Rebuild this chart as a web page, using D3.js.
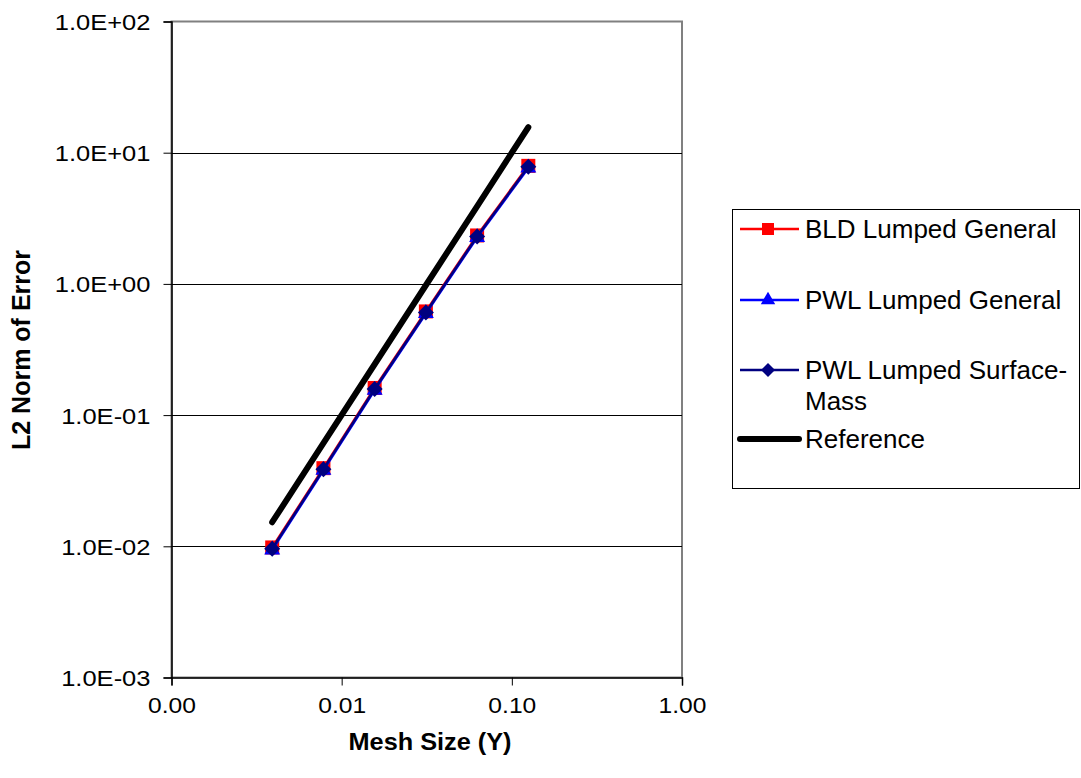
<!DOCTYPE html>
<html>
<head>
<meta charset="utf-8">
<script src="https://cdn.jsdelivr.net/npm/d3@7"></script>
<style>
  html, body { margin: 0; padding: 0; background: #fff; }
  svg { display: block; }
  text { font-family: "Liberation Sans", Arial, sans-serif; fill: #000; }
</style>
</head>
<body>
<svg id="chart" width="1081" height="778"></svg>
<script>
// ---- data ----
const meshSizes = [0.00390625, 0.0078125, 0.015625, 0.03125, 0.0625, 0.125];
const bldLumpedGeneral = [0.0098, 0.0394, 0.161, 0.617, 2.34, 7.94];
const pwlLumpedGeneral = [0.0094, 0.0380, 0.155, 0.595, 2.26, 7.66];
const pwlLumpedSurfaceMass = [0.0096, 0.0387, 0.158, 0.606, 2.30, 7.80];
const referenceValues = [0.01526, 0.06104, 0.2441, 0.9766, 3.906, 15.63];
const xTickValues = [0.001, 0.01, 0.1, 1];
const xTickLabels = ["0.00", "0.01", "0.10", "1.00"];
const yTickValues = [0.001, 0.01, 0.1, 1, 10, 100];
const yTickLabels = ["1.0E-03", "1.0E-02", "1.0E-01", "1.0E+00", "1.0E+01", "1.0E+02"];
const seriesNames = ["BLD Lumped General", "PWL Lumped General", "PWL Lumped Surface-Mass", "Reference"];

const svg = d3.select("#chart");
const pLeft = 171.5, pRight = 682, pTop = 21.5, pBottom = 677.5;

const x = d3.scaleLog().domain([0.001, 1]).range([pLeft, pRight]);
const y = d3.scaleLog().domain([0.001, 100]).range([pBottom, pTop]);

// stretch text horizontally (reference glyphs appear widened)
function stretchText(sel, sx) {
  sel.each(function() {
    const t = d3.select(this);
    const tx = +t.attr("x") || 0;
    const ty = +t.attr("y") || 0;
    t.attr("x", 0).attr("y", 0)
     .attr("transform", `translate(${tx},${ty}) scale(${sx},1)`);
  });
}

// plot area background + border
svg.append("rect").attr("x", pLeft).attr("y", pTop)
  .attr("width", pRight - pLeft).attr("height", pBottom - pTop)
  .attr("fill", "#fff").attr("stroke", "#808080").attr("stroke-width", 2);

// gridlines
svg.append("g").selectAll("line").data(yTickValues.filter(v => v > 0.001 && v < 100))
  .join("line")
  .attr("x1", pLeft).attr("x2", pRight)
  .attr("y1", d => Math.round(y(d)) + 0.5).attr("y2", d => Math.round(y(d)) + 0.5)
  .attr("stroke", "#000").attr("stroke-width", 1);

// axes
const yAxis = svg.append("g").attr("transform", `translate(${pLeft},0)`)
  .call(d3.axisLeft(y).tickValues(yTickValues).tickFormat((d, i) => yTickLabels[i]).tickSize(8).tickPadding(13));
yAxis.select(".domain").attr("stroke", "#000").attr("stroke-width", 1.5);
yAxis.selectAll(".tick line").attr("stroke", "#000");
yAxis.selectAll(".tick text").attr("font-size", 22).attr("font-family", "Liberation Sans, Arial, sans-serif")
  .attr("dy", "0.36em").attr("fill", "#000");
stretchText(yAxis.selectAll(".tick text"), 1.16);

const xAxis = svg.append("g").attr("transform", `translate(0,${pBottom})`)
  .call(d3.axisBottom(x).tickValues(xTickValues).tickFormat((d, i) => xTickLabels[i]).tickSize(8).tickPadding(12));
xAxis.select(".domain").attr("stroke", "#000").attr("stroke-width", 1.5);
xAxis.selectAll(".tick line").attr("stroke", "#000");
xAxis.selectAll(".tick text").attr("font-size", 22).attr("font-family", "Liberation Sans, Arial, sans-serif")
  .attr("dy", "0.71em").attr("fill", "#000");
stretchText(xAxis.selectAll(".tick text"), 1.12);

// axis titles
const xt = svg.append("text").attr("x", 430).attr("y", 750).attr("text-anchor", "middle")
  .attr("font-size", 23).attr("font-weight", "bold").text("Mesh Size (Y)");
stretchText(xt, 1.1);
svg.append("text").attr("transform", "translate(30,350) rotate(-90)")
  .attr("text-anchor", "middle").attr("font-size", 25).attr("font-weight", "bold")
  .text("L2 Norm of Error");

// series
const line = d3.line().x(d => x(d[0])).y(d => y(d[1]));
const zip = vals => meshSizes.map((m, i) => [m, vals[i]]);

const plot = svg.append("g");
// Reference
plot.append("path").datum(zip(referenceValues)).attr("d", line)
  .attr("fill", "none").attr("stroke", "#000").attr("stroke-width", 6).attr("stroke-linecap", "round");
// BLD
plot.append("path").datum(zip(bldLumpedGeneral)).attr("d", line)
  .attr("fill", "none").attr("stroke", "#ff0000").attr("stroke-width", 2.5);
plot.append("g").selectAll("rect").data(zip(bldLumpedGeneral)).join("rect")
  .attr("x", d => x(d[0]) - 7).attr("y", d => y(d[1]) - 7).attr("width", 14).attr("height", 14)
  .attr("fill", "#ff0000");
// PWL General
plot.append("path").datum(zip(pwlLumpedGeneral)).attr("d", line)
  .attr("fill", "none").attr("stroke", "#0000ff").attr("stroke-width", 2.5);
const tri = d3.symbol().type(d3.symbolTriangle).size(110);
plot.append("g").selectAll("path").data(zip(pwlLumpedGeneral)).join("path")
  .attr("transform", d => `translate(${x(d[0])},${y(d[1])})`).attr("d", tri)
  .attr("fill", "#0000ff");
// PWL Surface-Mass
plot.append("path").datum(zip(pwlLumpedSurfaceMass)).attr("d", line)
  .attr("fill", "none").attr("stroke", "#000080").attr("stroke-width", 2.5);
const diamond = s => `M0,${-s}L${s},0L0,${s}L${-s},0Z`;
plot.append("g").selectAll("path").data(zip(pwlLumpedSurfaceMass)).join("path")
  .attr("transform", d => `translate(${x(d[0])},${y(d[1])})`).attr("d", diamond(8))
  .attr("fill", "#000080");

// legend
const lg = svg.append("g");
lg.append("rect").attr("x", 732.5).attr("y", 209.5).attr("width", 347).attr("height", 279)
  .attr("fill", "#fff").attr("stroke", "#000").attr("stroke-width", 1);
const legendRows = [
  { name: seriesNames[0], color: "#ff0000", y: 229, marker: "square", w: 2.5, lines: ["BLD Lumped General"] },
  { name: seriesNames[1], color: "#0000ff", y: 300, marker: "triangle", w: 2.5, lines: ["PWL Lumped General"] },
  { name: seriesNames[2], color: "#000080", y: 370, marker: "diamond", w: 2.5, lines: ["PWL Lumped Surface-", "Mass"] },
  { name: seriesNames[3], color: "#000", y: 439, marker: null, w: 6, lines: ["Reference"] }
];
legendRows.forEach(r => {
  const g = lg.append("g");
  g.append("line").attr("x1", 740).attr("x2", 799).attr("y1", r.y).attr("y2", r.y)
    .attr("stroke", r.color).attr("stroke-width", r.w).attr("stroke-linecap", r.marker ? "butt" : "round");
  if (r.marker === "square") {
    g.append("rect").attr("x", 762).attr("y", r.y - 6).attr("width", 12).attr("height", 12).attr("fill", r.color);
  } else if (r.marker === "triangle") {
    g.append("path").attr("transform", `translate(768,${r.y})`).attr("d", d3.symbol().type(d3.symbolTriangle).size(90)).attr("fill", r.color);
  } else if (r.marker === "diamond") {
    g.append("path").attr("transform", `translate(768,${r.y})`).attr("d", diamond(7)).attr("fill", r.color);
  }
  const t = g.append("text").attr("x", 805).attr("y", r.y + 9).attr("font-size", 26);
  r.lines.forEach((ln, i) => {
    t.append("tspan").attr("x", 805).attr("dy", i === 0 ? 0 : 31).text(ln);
  });
});
</script>
</body>
</html>
